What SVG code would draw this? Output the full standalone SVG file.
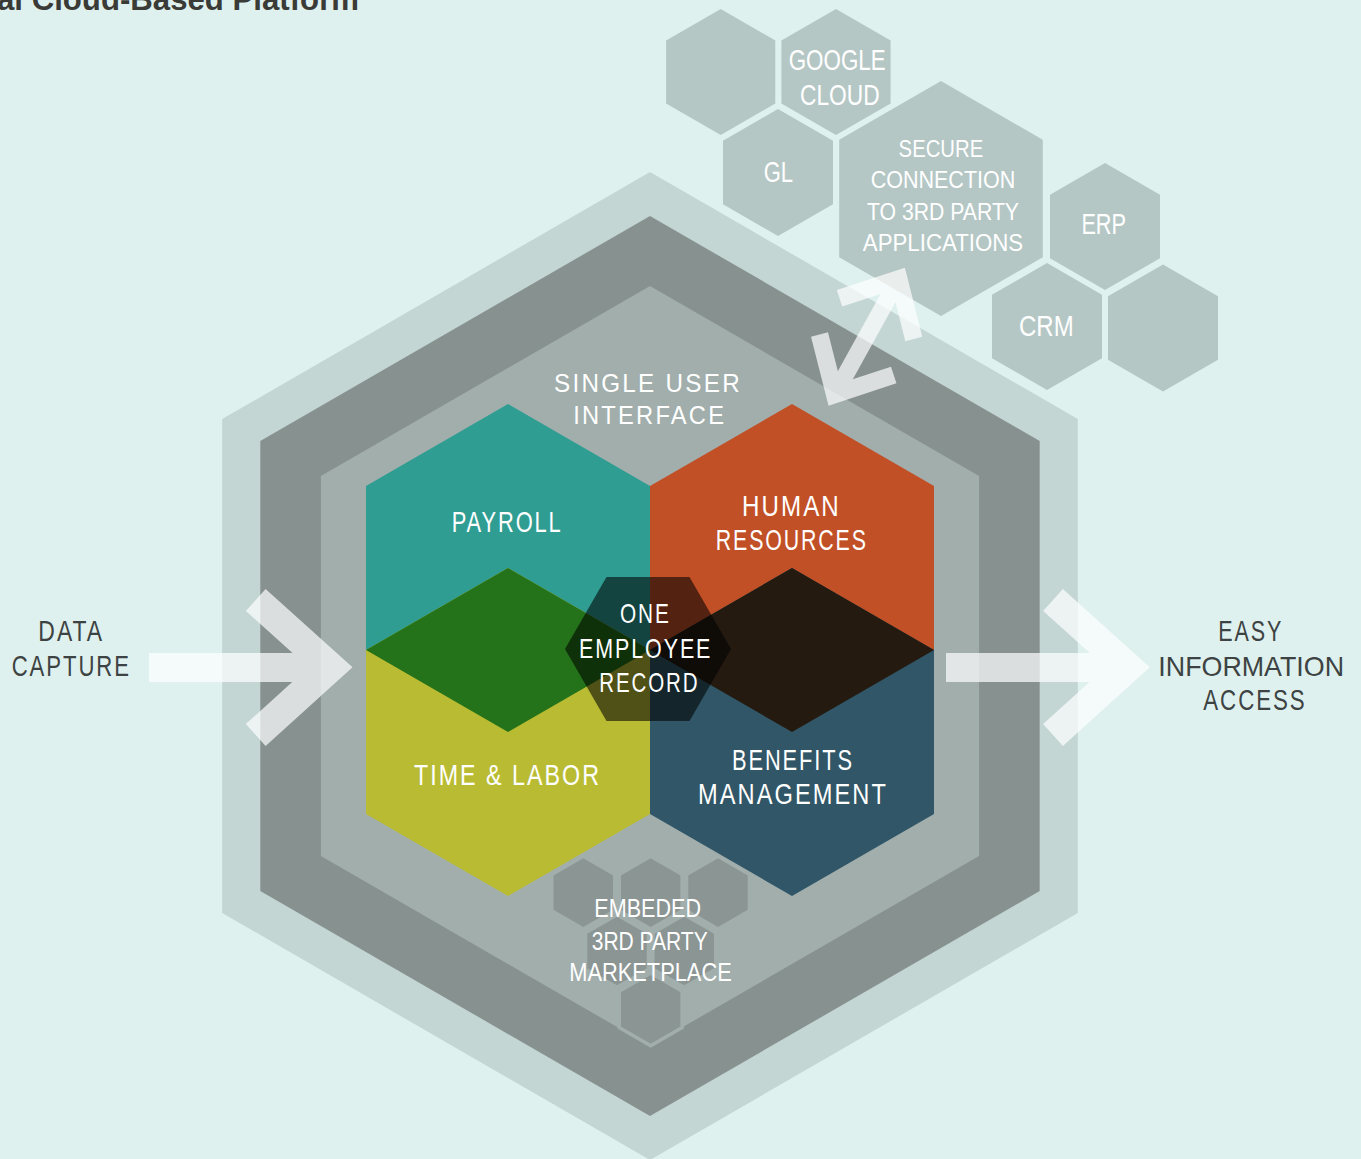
<svg xmlns="http://www.w3.org/2000/svg" width="1361" height="1159" viewBox="0 0 1361 1159">
<defs>
<style>
.lbl{font-family:"Liberation Sans","Roboto",sans-serif;fill:#ffffff;text-anchor:middle;}
.sp{letter-spacing:2.5px;}
.dk{fill:#3d4342;}
.th{fill:#b5c7c5;}
.mk{fill:#8b9594;stroke:#a1aeac;stroke-width:3.6;}
.arw{fill:none;stroke:#ffffff;stroke-linejoin:miter;stroke-linecap:butt;}
</style>
</defs>
<rect x="0" y="0" width="1361" height="1159" fill="#dff1ef"/>
<text x="-3" y="9.5" textLength="362" lengthAdjust="spacingAndGlyphs" font-family="'Liberation Sans',sans-serif" font-weight="bold" font-size="31" fill="#3a3b37">al Cloud-Based Platform</text>

<g id="platform">
<polygon points="650,172 1077.8,419 1077.8,913 650,1160 222.2,913 222.2,419" fill="#c3d6d4"/>
<polygon points="650,216 1039.7,441 1039.7,891 650,1116 260.3,891 260.3,441" fill="#879190"/>
<polygon points="650,286 979.1,476 979.1,856 650,1046 320.9,856 320.9,476" fill="#a1aeac"/>
</g>

<g id="single-user-interface">
<text class="lbl sp" x="648" y="391.7" font-size="26.5" textLength="188" lengthAdjust="spacingAndGlyphs">SINGLE USER</text>
<text class="lbl sp" x="649.7" y="424.3" font-size="26.5" textLength="153" lengthAdjust="spacingAndGlyphs">INTERFACE</text>
</g>

<g id="marketplace">
<polygon class="mk" points="583.3,856.3 614.8,874.5 614.8,910.9 583.3,929.1 551.8,910.9 551.8,874.5"/>
<polygon class="mk" points="650.7,856.3 682.2,874.5 682.2,910.9 650.7,929.1 619.2,910.9 619.2,874.5"/>
<polygon class="mk" points="718,856.3 749.5,874.5 749.5,910.9 718,929.1 686.5,910.9 686.5,874.5"/>
<polygon class="mk" points="617,914.6 648.5,932.8 648.5,969.2 617,987.4 585.5,969.2 585.5,932.8"/>
<polygon class="mk" points="684.3,914.6 715.8,932.8 715.8,969.2 684.3,987.4 652.8,969.2 652.8,932.8"/>
<polygon class="mk" points="650.7,972.9 682.2,991.1 682.2,1027.5 650.7,1045.7 619.2,1027.5 619.2,991.1"/>
<text class="lbl" x="647.7" y="916.7" font-size="25.5" textLength="106.7" lengthAdjust="spacingAndGlyphs">EMBEDED</text>
<text class="lbl" x="649.7" y="950" font-size="25.5" textLength="116" lengthAdjust="spacingAndGlyphs">3RD PARTY</text>
<text class="lbl" x="650.5" y="980.7" font-size="25.5" textLength="162.4" lengthAdjust="spacingAndGlyphs">MARKETPLACE</text>
</g>

<g id="payroll">
<polygon points="508,404 650,486 650,650 508,732 366,650 366,486" fill="#309d93"/>
</g>
<g id="human-resources">
<polygon points="792,404 934,486 934,650 792,732 650,650 650,486" fill="#c25026"/>
</g>
<g id="time-labor">
<polygon points="508,568 650,650 650,814 508,896 366,814 366,650" fill="#b9bc33"/>
</g>
<g id="benefits-management">
<polygon points="792,568 934,650 934,814 792,896 650,814 650,650" fill="#305667"/>
</g>
<g id="overlaps">
<polygon points="508,568 650,650 508,732 366,650" fill="#247219"/>
<polygon points="792,568 934,650 792,732 650,650" fill="#241a10"/>
</g>
<g id="one-employee-record">
<polygon points="565,649 606.5,577 689.5,577 731,649 689.5,721 606.5,721" fill="#000000" fill-opacity="0.57"/>
<text class="lbl sp" x="645.3" y="623.3" font-size="28" textLength="50.7" lengthAdjust="spacingAndGlyphs">ONE</text>
<text class="lbl sp" x="645.7" y="657.7" font-size="28" textLength="133.3" lengthAdjust="spacingAndGlyphs">EMPLOYEE</text>
<text class="lbl sp" x="649.3" y="691.7" font-size="28" textLength="100" lengthAdjust="spacingAndGlyphs">RECORD</text>
</g>

<g id="labels-modules">
<text class="lbl sp" x="507.2" y="532.3" font-size="28.6" textLength="111" lengthAdjust="spacingAndGlyphs">PAYROLL</text>
<text class="lbl sp" x="791.4" y="516" font-size="28.6" textLength="99" lengthAdjust="spacingAndGlyphs">HUMAN</text>
<text class="lbl sp" x="791.8" y="550.3" font-size="28.6" textLength="152" lengthAdjust="spacingAndGlyphs">RESOURCES</text>
<text class="lbl sp" x="507.5" y="785.3" font-size="28.6" textLength="187" lengthAdjust="spacingAndGlyphs">TIME &amp; LABOR</text>
<text class="lbl sp" x="793" y="770" font-size="28.6" textLength="122" lengthAdjust="spacingAndGlyphs">BENEFITS</text>
<text class="lbl sp" x="793" y="804" font-size="28.6" textLength="190" lengthAdjust="spacingAndGlyphs">MANAGEMENT</text>
</g>

<g id="data-capture">
<text class="lbl sp dk" x="71.2" y="641" font-size="28.6" textLength="65.7" lengthAdjust="spacingAndGlyphs">DATA</text>
<text class="lbl sp dk" x="71.3" y="676" font-size="28.6" textLength="119.3" lengthAdjust="spacingAndGlyphs">CAPTURE</text>
</g>
<g id="easy-information-access">
<text class="lbl sp dk" x="1250.8" y="641" font-size="28.6" textLength="65" lengthAdjust="spacingAndGlyphs">EASY</text>
<text class="lbl dk" x="1251.2" y="676" font-size="28" textLength="185.7" lengthAdjust="spacingAndGlyphs">INFORMATION</text>
<text class="lbl sp dk" x="1255" y="710" font-size="28.6" textLength="103.4" lengthAdjust="spacingAndGlyphs">ACCESS</text>
</g>

<g id="hex-blank-1"><polygon class="th" points="720.7,9 775.3,40.5 775.3,103.5 720.7,135 666.1,103.5 666.1,40.5"/></g>
<g id="hex-google-cloud">
<polygon class="th" points="836,9 890.6,40.5 890.6,103.5 836,135 781.4,103.5 781.4,40.5"/>
<text class="lbl" x="837.2" y="70" font-size="29" textLength="97" lengthAdjust="spacingAndGlyphs">GOOGLE</text>
<text class="lbl" x="839.8" y="105" font-size="29" textLength="79.6" lengthAdjust="spacingAndGlyphs">CLOUD</text>
</g>
<g id="hex-gl">
<polygon class="th" points="778,109 833,140.75 833,204.25 778,236 723,204.25 723,140.75"/>
<text class="lbl" x="778.3" y="181.7" font-size="29" textLength="29.3" lengthAdjust="spacingAndGlyphs">GL</text>
</g>
<g id="hex-secure-connection">
<polygon class="th" points="941,81 1042.8,139.75 1042.8,257.25 941,316 839.2,257.25 839.2,139.75"/>
<text class="lbl" x="940.9" y="156.7" font-size="24.4" textLength="84.6" lengthAdjust="spacingAndGlyphs">SECURE</text>
<text class="lbl" x="943" y="187.7" font-size="24.4" textLength="144.7" lengthAdjust="spacingAndGlyphs">CONNECTION</text>
<text class="lbl" x="943" y="220" font-size="24.4" textLength="152" lengthAdjust="spacingAndGlyphs">TO 3RD PARTY</text>
<text class="lbl" x="943" y="250.7" font-size="24.4" textLength="160.3" lengthAdjust="spacingAndGlyphs">APPLICATIONS</text>
</g>
<g id="hex-erp">
<polygon class="th" points="1105,163 1160,194.75 1160,258.25 1105,290 1050,258.25 1050,194.75"/>
<text class="lbl" x="1103.7" y="234.3" font-size="29" textLength="44.6" lengthAdjust="spacingAndGlyphs">ERP</text>
</g>
<g id="hex-crm">
<polygon class="th" points="1047,263 1102,294.75 1102,358.25 1047,390 992,358.25 992,294.75"/>
<text class="lbl" x="1046.3" y="336" font-size="29" textLength="54.6" lengthAdjust="spacingAndGlyphs">CRM</text>
</g>
<g id="hex-blank-2"><polygon class="th" points="1163,264.5 1218,296.25 1218,359.75 1163,391.5 1108,359.75 1108,296.25"/></g>

<g id="connectors">
<g opacity="0.7">
<rect x="149" y="653" width="168" height="29" fill="#ffffff"/>
<polyline class="arw" stroke-width="29.5" points="255.7,600 330.5,667.3 255.7,735"/>
</g>
<g opacity="0.7">
<rect x="946" y="653" width="168" height="29" fill="#ffffff"/>
<polyline class="arw" stroke-width="29.5" points="1053,600 1127.8,667.3 1053,735"/>
</g>
<g opacity="0.7">
<line class="arw" stroke-width="17" x1="834.7" y1="394.4" x2="898.7" y2="278.9"/>
<polyline class="arw" stroke-width="17.5" points="839.5,298.3 898.7,278.9 913.8,339"/>
<polyline class="arw" stroke-width="17.5" points="819.5,334.5 834.7,394.4 893.7,375"/>
</g>
</g>
</svg>
